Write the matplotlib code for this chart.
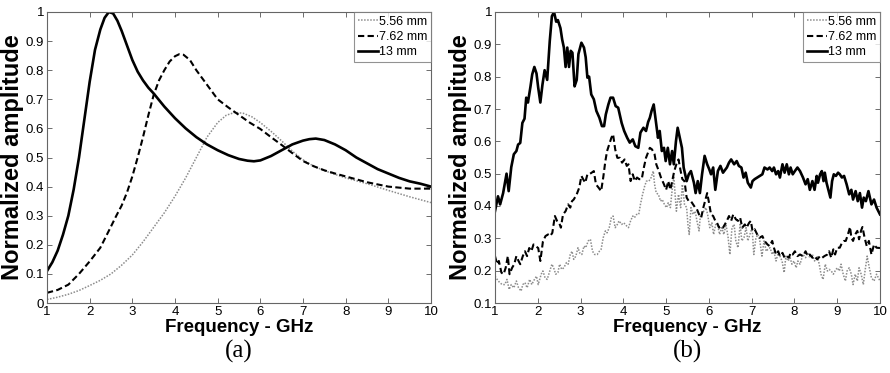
import matplotlib
matplotlib.use("Agg")
import matplotlib.pyplot as plt
from matplotlib.lines import Line2D

plt.rcParams["font.family"] = ["Liberation Sans", "DejaVu Sans"]

labels = ["5.56 mm", "7.62 mm", "13 mm"]

# ---- panel (a): simulated spectra ----
a_x_13 = [1.0, 1.125, 1.25, 1.375, 1.5, 1.625, 1.75, 1.875, 2.0, 2.125, 2.25, 2.35, 2.45, 2.55,
          2.65, 2.75, 2.875, 3.0, 3.125, 3.25, 3.375, 3.5, 3.75, 4.0, 4.25, 4.5, 4.75, 5.0,
          5.25, 5.5, 5.7, 5.85, 6.0, 6.25, 6.5, 6.75, 7.0, 7.15, 7.3, 7.5, 7.75, 8.0, 8.25,
          8.5, 8.75, 9.0, 9.25, 9.5, 9.75, 10.0]
a_y_13 = [0.11, 0.14, 0.18, 0.235, 0.30, 0.39, 0.50, 0.63, 0.76, 0.87, 0.94, 0.98, 1.0, 0.995,
          0.97, 0.935, 0.885, 0.835, 0.795, 0.765, 0.74, 0.72, 0.675, 0.635, 0.60, 0.57, 0.545, 0.525,
          0.508, 0.495, 0.489, 0.487, 0.49, 0.505, 0.525, 0.545, 0.558, 0.563, 0.565, 0.56, 0.545, 0.525, 0.50,
          0.48, 0.46, 0.445, 0.43, 0.418, 0.41, 0.40]

a_x_762 = [1.0, 1.25, 1.5, 1.75, 2.0, 2.25, 2.5, 2.625, 2.75, 2.875, 3.0, 3.125, 3.25, 3.375,
           3.5, 3.625, 3.75, 3.875, 4.0, 4.1, 4.2, 4.35, 4.5, 4.75, 5.0, 5.25, 5.5, 5.75,
           6.0, 6.25, 6.5, 6.75, 7.0, 7.25, 7.5, 7.75, 8.0, 8.5, 9.0, 9.5, 10.0]
a_y_762 = [0.035, 0.045, 0.063, 0.10, 0.143, 0.19, 0.263, 0.30, 0.335, 0.38, 0.435, 0.50, 0.57, 0.645,
           0.715, 0.765, 0.80, 0.83, 0.848, 0.855, 0.853, 0.835, 0.80, 0.75, 0.70, 0.672, 0.646, 0.62,
           0.598, 0.57, 0.543, 0.515, 0.488, 0.47, 0.456, 0.445, 0.435, 0.415, 0.40, 0.393, 0.393]

a_x_556 = [1.0, 1.25, 1.5, 1.75, 2.0, 2.25, 2.5, 2.75, 3.0, 3.25, 3.5, 3.75, 4.0, 4.25,
           4.5, 4.75, 5.0, 5.2, 5.4, 5.6, 5.8, 6.0, 6.25, 6.5, 6.75, 7.0, 7.25, 7.5, 7.75,
           8.0, 8.5, 9.0, 9.5, 10.0]
a_y_556 = [0.012, 0.02, 0.03, 0.043, 0.06, 0.078, 0.10, 0.13, 0.165, 0.21, 0.26, 0.31, 0.367, 0.43,
           0.50, 0.57, 0.62, 0.645, 0.655, 0.652, 0.64, 0.62, 0.59, 0.557, 0.522, 0.492, 0.47, 0.455, 0.442,
           0.43, 0.41, 0.387, 0.365, 0.345]

# ---- panel (b): measured spectra ----
b_x_13 = [1.00, 1.07, 1.12, 1.19, 1.27, 1.32, 1.38, 1.44, 1.50, 1.54, 1.59, 1.64, 1.69, 1.73,
          1.77, 1.83, 1.87, 1.92, 1.97, 2.01, 2.06, 2.11, 2.16, 2.22, 2.28, 2.33, 2.38, 2.43,
          2.47, 2.53, 2.57, 2.61, 2.65, 2.69, 2.73, 2.77, 2.81, 2.86, 2.91, 2.95, 3.02, 3.08,
          3.12, 3.16, 3.20, 3.25, 3.31, 3.37, 3.44, 3.50, 3.55, 3.59, 3.65, 3.70, 3.76, 3.82,
          3.88, 3.96, 4.02, 4.09, 4.15, 4.22, 4.28, 4.35, 4.40, 4.47, 4.53, 4.58, 4.62, 4.66,
          4.71, 4.76, 4.81, 4.85, 4.90, 4.95, 4.99, 5.04, 5.09, 5.14, 5.18, 5.23, 5.27, 5.32,
          5.37, 5.41, 5.48, 5.53, 5.58, 5.65, 5.69, 5.74, 5.79, 5.84, 5.90, 5.96, 6.01, 6.05,
          6.10, 6.15, 6.21, 6.27, 6.33, 6.42, 6.47, 6.52, 6.59, 6.65, 6.70, 6.76, 6.81, 6.86,
          6.91, 6.98, 7.02, 7.07, 7.13, 7.19, 7.25, 7.30, 7.37, 7.42, 7.48, 7.52, 7.57, 7.62,
          7.66, 7.72, 7.77, 7.82, 7.87, 7.91, 7.96, 8.01, 8.07, 8.13, 8.20, 8.26, 8.31, 8.36,
          8.42, 8.47, 8.52, 8.55, 8.60, 8.64, 8.68, 8.71, 8.75, 8.80, 8.84, 8.88, 8.92, 8.97,
          9.02, 9.06, 9.11, 9.16, 9.22, 9.28, 9.33, 9.37, 9.43, 9.48, 9.53, 9.58, 9.62, 9.67,
          9.73, 9.80, 9.86, 9.92, 10.0]
b_y_13 = [0.384, 0.43, 0.405, 0.44, 0.50, 0.446, 0.52, 0.56, 0.57, 0.59, 0.595, 0.657, 0.67, 0.735,
          0.72, 0.77, 0.807, 0.83, 0.81, 0.766, 0.72, 0.776, 0.82, 0.79, 0.91, 0.987, 1.0, 0.97,
          0.975, 0.95, 0.915, 0.89, 0.83, 0.89, 0.83, 0.88, 0.874, 0.77, 0.79, 0.87, 0.905, 0.89,
          0.86, 0.797, 0.80, 0.745, 0.73, 0.694, 0.673, 0.647, 0.647, 0.683, 0.714, 0.735, 0.735, 0.709,
          0.704, 0.657, 0.632, 0.611, 0.596, 0.606, 0.585, 0.58, 0.627, 0.642, 0.632, 0.66, 0.673, 0.694,
          0.714, 0.663, 0.611, 0.632, 0.57, 0.58, 0.539, 0.58, 0.529, 0.57, 0.529, 0.60, 0.642, 0.611,
          0.58, 0.519, 0.477, 0.498, 0.508, 0.472, 0.44, 0.477, 0.44, 0.498, 0.555, 0.529, 0.513, 0.498,
          0.519, 0.45, 0.508, 0.524, 0.503, 0.519, 0.534, 0.544, 0.529, 0.539, 0.524, 0.519, 0.488, 0.503,
          0.472, 0.457, 0.477, 0.483, 0.488, 0.493, 0.498, 0.519, 0.513, 0.519, 0.508, 0.519, 0.498, 0.508,
          0.488, 0.529, 0.503, 0.529, 0.498, 0.519, 0.498, 0.508, 0.519, 0.508, 0.488, 0.467, 0.483, 0.45,
          0.477, 0.45, 0.493, 0.472, 0.498, 0.508, 0.477, 0.503, 0.472, 0.446, 0.426, 0.477, 0.498, 0.493,
          0.503, 0.498, 0.488, 0.493, 0.467, 0.436, 0.45, 0.42, 0.446, 0.415, 0.44, 0.395, 0.426, 0.415,
          0.446, 0.405, 0.42, 0.395, 0.374]

b_x_762 = [1.00, 1.05, 1.09, 1.15, 1.20, 1.25, 1.30, 1.34, 1.40, 1.45, 1.50, 1.55, 1.59, 1.65,
           1.70, 1.75, 1.80, 1.85, 1.90, 1.95, 2.01, 2.06, 2.12, 2.18, 2.24, 2.29, 2.34, 2.40,
           2.45, 2.50, 2.54, 2.59, 2.65, 2.71, 2.76, 2.80, 2.84, 2.91, 2.97, 3.02, 3.06, 3.11,
           3.16, 3.20, 3.26, 3.31, 3.36, 3.42, 3.48, 3.53, 3.58, 3.62, 3.67, 3.72, 3.76, 3.81,
           3.86, 3.92, 3.97, 4.03, 4.08, 4.12, 4.17, 4.22, 4.27, 4.32, 4.37, 4.43, 4.48, 4.53,
           4.62, 4.67, 4.73, 4.77, 4.83, 4.88, 4.95, 5.00, 5.05, 5.10, 5.15, 5.19, 5.24, 5.29,
           5.34, 5.38, 5.43, 5.48, 5.53, 5.58, 5.63, 5.68, 5.72, 5.77, 5.82, 5.87, 5.91, 5.96,
           6.01, 6.05, 6.10, 6.15, 6.19, 6.24, 6.29, 6.33, 6.42, 6.47, 6.52, 6.57, 6.63, 6.68,
           6.73, 6.78, 6.84, 6.88, 6.94, 6.98, 7.02, 7.07, 7.13, 7.19, 7.25, 7.30, 7.37, 7.42,
           7.48, 7.52, 7.57, 7.62, 7.66, 7.72, 7.77, 7.82, 7.87, 7.91, 7.96, 8.01, 8.07, 8.13,
           8.20, 8.26, 8.31, 8.36, 8.42, 8.47, 8.53, 8.60, 8.65, 8.70, 8.77, 8.81, 8.86, 8.91,
           8.95, 9.00, 9.06, 9.11, 9.16, 9.20, 9.25, 9.30, 9.33, 9.37, 9.42, 9.47, 9.51, 9.56,
           9.59, 9.64, 9.69, 9.74, 9.80, 9.86, 9.92, 10.0]
b_y_762 = [0.245, 0.22, 0.23, 0.194, 0.189, 0.209, 0.245, 0.189, 0.209, 0.22, 0.245, 0.23, 0.22, 0.245,
           0.26, 0.245, 0.27, 0.26, 0.281, 0.276, 0.27, 0.23, 0.29, 0.307, 0.312, 0.307, 0.317, 0.369,
           0.354, 0.348, 0.333, 0.374, 0.384, 0.405, 0.395, 0.415, 0.42, 0.436, 0.457, 0.493, 0.483, 0.472,
           0.498, 0.498, 0.503, 0.508, 0.467, 0.457, 0.446, 0.488, 0.539, 0.57, 0.591, 0.611, 0.622, 0.575,
           0.549, 0.549, 0.534, 0.544, 0.524, 0.529, 0.477, 0.498, 0.477, 0.488, 0.483, 0.483, 0.519, 0.549,
           0.58, 0.575, 0.56, 0.529, 0.508, 0.488, 0.467, 0.45, 0.477, 0.45, 0.483, 0.508, 0.529, 0.544,
           0.508, 0.483, 0.477, 0.426, 0.415, 0.415, 0.405, 0.395, 0.39, 0.374, 0.364, 0.395, 0.415, 0.44,
           0.405, 0.374, 0.369, 0.354, 0.348, 0.333, 0.338, 0.333, 0.354, 0.369, 0.354, 0.374, 0.359, 0.354,
           0.364, 0.333, 0.343, 0.333, 0.348, 0.354, 0.323, 0.328, 0.312, 0.302, 0.307, 0.292, 0.281, 0.276,
           0.292, 0.271, 0.25, 0.26, 0.245, 0.255, 0.24, 0.245, 0.24, 0.255, 0.25, 0.26, 0.245, 0.25,
           0.245, 0.26, 0.245, 0.25, 0.24, 0.245, 0.235, 0.245, 0.24, 0.245, 0.25, 0.26, 0.24, 0.266,
           0.25, 0.271, 0.271, 0.286, 0.292, 0.292, 0.312, 0.335, 0.302, 0.292, 0.312, 0.323, 0.297, 0.325,
           0.335, 0.302, 0.276, 0.292, 0.25, 0.281, 0.271, 0.27]

b_x_556 = [1.00, 1.05, 1.11, 1.17, 1.23, 1.28, 1.33, 1.38, 1.44, 1.50, 1.55, 1.61, 1.65, 1.70,
           1.75, 1.81, 1.86, 1.90, 1.97, 2.01, 2.08, 2.12, 2.17, 2.22, 2.28, 2.33, 2.37, 2.42,
           2.47, 2.51, 2.56, 2.61, 2.67, 2.71, 2.76, 2.80, 2.84, 2.89, 2.94, 2.98, 3.03, 3.08,
           3.12, 3.18, 3.23, 3.28, 3.33, 3.39, 3.44, 3.48, 3.53, 3.58, 3.62, 3.67, 3.72, 3.76,
           3.81, 3.86, 3.90, 3.96, 4.01, 4.08, 4.12, 4.17, 4.22, 4.26, 4.31, 4.36, 4.40, 4.45,
           4.50, 4.54, 4.60, 4.65, 4.70, 4.73, 4.77, 4.82, 4.87, 4.91, 4.96, 5.01, 5.05, 5.10,
           5.13, 5.18, 5.21, 5.24, 5.29, 5.34, 5.38, 5.43, 5.48, 5.51, 5.54, 5.58, 5.63, 5.68,
           5.72, 5.77, 5.80, 5.83, 5.88, 5.93, 5.97, 6.02, 6.07, 6.11, 6.16, 6.21, 6.25, 6.30,
           6.35, 6.40, 6.45, 6.49, 6.54, 6.59, 6.63, 6.68, 6.73, 6.77, 6.82, 6.87, 6.91, 6.96,
           7.01, 7.05, 7.10, 7.15, 7.19, 7.24, 7.29, 7.34, 7.38, 7.43, 7.48, 7.52, 7.57, 7.62,
           7.66, 7.71, 7.76, 7.80, 7.85, 7.90, 7.94, 7.99, 8.04, 8.08, 8.13, 8.20, 8.26, 8.31,
           8.36, 8.42, 8.47, 8.53, 8.58, 8.62, 8.67, 8.72, 8.77, 8.81, 8.86, 8.91, 8.95, 9.00,
           9.05, 9.09, 9.14, 9.19, 9.23, 9.28, 9.33, 9.37, 9.42, 9.47, 9.51, 9.56, 9.61, 9.65,
           9.70, 9.75, 9.80, 9.86, 9.92, 10.0]
b_y_556 = [0.183, 0.173, 0.163, 0.157, 0.157, 0.173, 0.142, 0.157, 0.147, 0.168, 0.147, 0.137, 0.157, 0.163,
           0.147, 0.173, 0.157, 0.168, 0.183, 0.157, 0.189, 0.199, 0.178, 0.173, 0.199, 0.22, 0.209, 0.189,
           0.194, 0.22, 0.204, 0.209, 0.225, 0.22, 0.25, 0.26, 0.235, 0.245, 0.271, 0.255, 0.25, 0.276,
           0.271, 0.292, 0.297, 0.26, 0.25, 0.25, 0.26, 0.266, 0.302, 0.323, 0.317, 0.333, 0.364, 0.369,
           0.333, 0.343, 0.354, 0.343, 0.348, 0.338, 0.333, 0.354, 0.369, 0.364, 0.374, 0.374, 0.405, 0.436,
           0.462, 0.477, 0.477, 0.488, 0.508, 0.467, 0.44, 0.436, 0.415, 0.42, 0.405, 0.395, 0.41, 0.395,
           0.436, 0.493, 0.436, 0.384, 0.436, 0.395, 0.467, 0.405, 0.395, 0.343, 0.312, 0.395, 0.374, 0.384,
           0.354, 0.323, 0.369, 0.374, 0.384, 0.395, 0.374, 0.333, 0.348, 0.312, 0.343, 0.338, 0.312, 0.333,
           0.312, 0.343, 0.302, 0.25, 0.333, 0.343, 0.292, 0.271, 0.343, 0.292, 0.302, 0.333, 0.292, 0.312,
           0.333, 0.25, 0.302, 0.312, 0.292, 0.245, 0.292, 0.26, 0.266, 0.271, 0.25, 0.26, 0.23, 0.255,
           0.245, 0.23, 0.194, 0.245, 0.23, 0.24, 0.22, 0.23, 0.209, 0.23, 0.22, 0.25, 0.24, 0.255,
           0.24, 0.25, 0.23, 0.245, 0.22, 0.189, 0.173, 0.22, 0.199, 0.204, 0.199, 0.189, 0.199, 0.209,
           0.199, 0.22, 0.189, 0.168, 0.199, 0.209, 0.189, 0.157, 0.189, 0.168, 0.209, 0.189, 0.157, 0.199,
           0.245, 0.209, 0.178, 0.168, 0.189, 0.168]

x_ticks = list(range(1, 11))
a_yticks = [0, 0.1, 0.2, 0.3, 0.4, 0.5, 0.6, 0.7, 0.8, 0.9, 1]
b_yticks = [0.1, 0.2, 0.3, 0.4, 0.5, 0.6, 0.7, 0.8, 0.9, 1]

styles = [
    dict(color="#8c8c8c", linestyle=(0, (1, 1)), linewidth=1.1),
    dict(color="black", linestyle=(0, (3, 1.6)), linewidth=1.5),
    dict(color="black", linestyle="-", linewidth=1.9),
]


def fmt(v):
    return f"{v:g}"


def draw_panel(ax, series, yticks, ylim, tag):
    for (xs, ys), st in zip(series, styles):
        ax.plot(xs, ys, **st)
    ax.set_xlim(1, 10)
    ax.set_ylim(*ylim)
    ax.set_xticks(x_ticks)
    ax.set_xticklabels([str(t) for t in x_ticks])
    ax.set_yticks(yticks)
    ax.set_yticklabels([fmt(t) for t in yticks])
    ax.tick_params(direction="in", top=True, right=True, length=3.5, width=0.6,
                   labelsize=9.5, pad=2, color="#555555")
    for sp in ax.spines.values():
        sp.set_color("#666666")
        sp.set_linewidth(0.8)
    ax.set_xlabel("Frequency - GHz", fontsize=13.5, fontweight="bold", labelpad=1)
    ax.set_ylabel("Normalized amplitude", fontsize=17, fontweight="bold", labelpad=1)
    handles = [Line2D([], [], **st) for st in styles]
    leg = ax.legend(handles, labels, loc="upper right", fontsize=9, frameon=True,
                    fancybox=False, borderaxespad=0, handlelength=1.6, handletextpad=0.1,
                    borderpad=0.3, labelspacing=0.25)
    leg.get_frame().set_edgecolor("#777777")
    leg.get_frame().set_linewidth(0.8)
    ax.text(0.5, -0.128, tag, transform=ax.transAxes, ha="center", va="top",
            fontsize=18, family=["Liberation Serif", "DejaVu Serif"])


fig = plt.figure(figsize=(8.9, 3.73), dpi=100)
ax_a = fig.add_axes([47 / 890, 70 / 373, 384 / 890, 291 / 373])
ax_b = fig.add_axes([495 / 890, 70 / 373, 385 / 890, 291 / 373])

draw_panel(ax_a, [(a_x_556, a_y_556), (a_x_762, a_y_762), (a_x_13, a_y_13)],
           a_yticks, (0, 1), "(a)")
draw_panel(ax_b, [(b_x_556, b_y_556), (b_x_762, b_y_762), (b_x_13, b_y_13)],
           b_yticks, (0.1, 1), "(b)")

fig.savefig("out.png", dpi=100)
